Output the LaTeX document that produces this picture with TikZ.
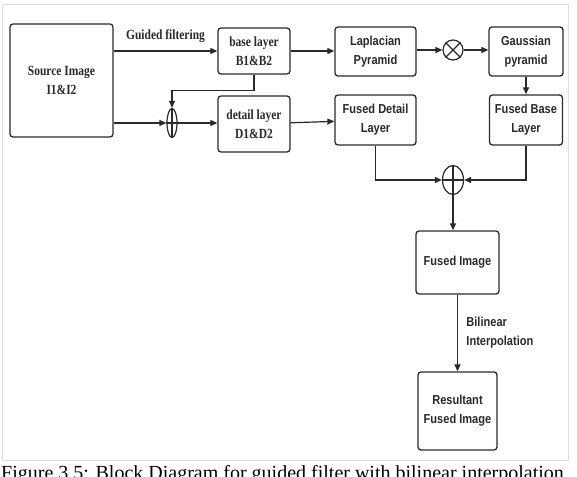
\documentclass[tikz,border=0pt]{standalone}
\usepackage{fontspec}
\usetikzlibrary{positioning,arrows.meta,shapes.geometric}
\newfontfamily\serifnarrow[FakeStretch=0.82]{Liberation Serif}
\newfontfamily\sansnarrow[FakeStretch=0.85]{Liberation Sans}
\newfontfamily\capfont{Liberation Serif}
\definecolor{ink}{HTML}{2A2A2A}
\definecolor{framegray}{HTML}{DDDDDD}
\tikzset{
  box/.style={draw=ink, line width=1.3pt, rounded corners=3pt, fill=white,
    align=center, inner sep=0pt, text=ink},
  sbox/.style={box, font=\serifnarrow\bfseries\fontsize{14pt}{19pt}\selectfont},
  fbox/.style={box, font=\sansnarrow\bfseries\fontsize{13pt}{19pt}\selectfont},
  arr/.style={-{Triangle[length=7pt,width=6pt]}, line width=1.2pt, draw=ink},
  lin/.style={line width=1.2pt, draw=ink},
  sym/.style={draw=ink, line width=1.2pt, inner sep=0pt, fill=white},
  slab/.style={font=\serifnarrow\bfseries\fontsize{14pt}{19pt}\selectfont, text=ink},
  flab/.style={font=\sansnarrow\bfseries\fontsize{13pt}{19pt}\selectfont, text=ink, align=left},
}
\begin{document}
\begin{tikzpicture}[x=1pt, y=-1pt]
  \useasboundingbox (0,0) rectangle (577,476);
  \draw[framegray, line width=1pt] (2,5) rectangle (568,460);
  % left part
  \node[sbox, minimum width=103pt, minimum height=113pt] (src) at (61.5,80.5) {Source Image\\I1\&I2};
  \node[sbox, minimum width=72pt, minimum height=46pt] (base) at (254,51) {base layer\\B1\&B2};
  \node[sbox, minimum width=72pt, minimum height=56pt] (detail) at (254,124) {detail layer\\D1\&D2};
  \node[sym, ellipse, minimum width=10pt, minimum height=29pt] (join) at (172,123) {};
  \draw[lin] (join.north) -- (join.south) (join.west) -- (join.east);
  \draw[arr] (src.east |- base) -- node[above=4pt, slab]{Guided filtering} (base);
  \draw[arr] (src.east |- join) -- (join.west);
  \draw[arr] (join.east) -- (detail.west |- join);
  \draw[arr] (base.south) -- ++(0,16) -| (join.north);
  % pyramids
  \node[fbox, minimum width=81pt, minimum height=49pt] (lap) at (375.5,51.5) {Laplacian\\Pyramid};
  \node[sym, circle, minimum size=20pt] (mul) at (453,50) {};
  \draw[lin] (mul.north west) -- (mul.south east) (mul.north east) -- (mul.south west);
  \node[fbox, minimum width=74pt, minimum height=49pt] (gauss) at (526,51.5) {Gaussian\\pyramid};
  \node[fbox, minimum width=81pt, minimum height=50pt] (fdet) at (375.5,120) {Fused Detail\\Layer};
  \node[fbox, minimum width=73pt, minimum height=50pt] (fbase) at (526,120) {Fused Base\\Layer};
  \draw[arr] (base) -- (lap.west |- base);
  \draw[arr] (lap.east |- mul) -- (mul);
  \draw[arr] (mul) -- (gauss.west |- mul);
  \draw[arr] (gauss) -- (fbase);
  \draw[arr] (detail) -- (fdet);
  % fusion
  \node[sym, ellipse, minimum width=21pt, minimum height=29pt] (sum) at (453,180) {};
  \draw[lin] (sum.north) -- (sum.south) (sum.west) -- (sum.east);
  \draw[arr] (fdet.south) |- (sum.west);
  \draw[arr] (fbase.south) |- (sum.east);
  \node[fbox, minimum width=83pt, minimum height=63pt] (fimg) at (457.5,262.5) {Fused Image};
  \node[fbox, minimum width=79pt, minimum height=78pt] (res) at (457.5,411) {Resultant\\Fused Image};
  \draw[arr] (sum.south) -- (sum.south |- fimg.north);
  \draw[arr] (fimg) -- node[right=5pt, flab]{Bilinear\\Interpolation} (res);
  \node[font=\capfont\fontsize{20pt}{24pt}\selectfont, anchor=base west, inner sep=0pt] (cap) at (1,479)
    {Figure 3.5: Block Diagram for guided filter with bilinear interpolation};
\end{tikzpicture}
\end{document}
